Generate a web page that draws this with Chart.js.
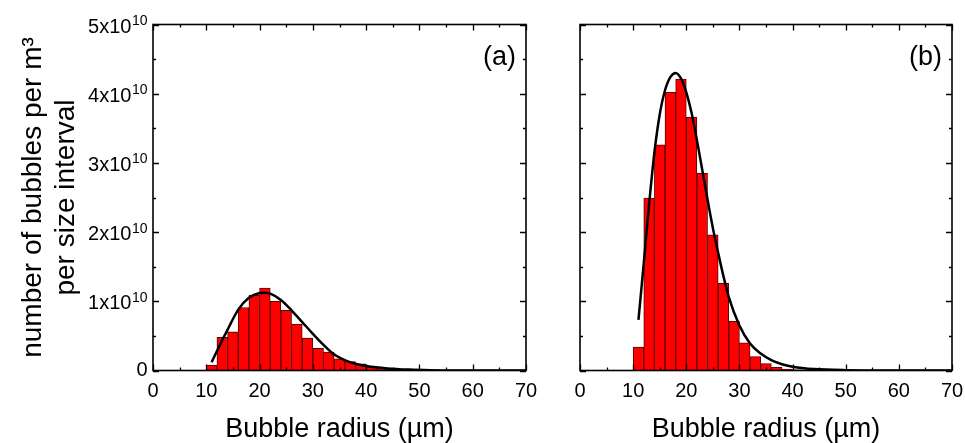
<!DOCTYPE html>
<html>
<head>
<meta charset="utf-8">
<script src="https://cdn.jsdelivr.net/npm/chart.js@4"></script>
<style>
  body { margin: 0; background: #fff; }
  #wrap { position: relative; width: 965px; height: 443px; }
  canvas { position: absolute; top: 0; }
  #chartA { left: 0; }
  #chartB { left: 540px; }
</style>
</head>
<body>
<div id="wrap">
  <canvas id="chartA" width="540" height="443"></canvas>
  <canvas id="chartB" width="425" height="443"></canvas>
</div>
<script>
// Bubble size histograms, values in units of 1e10 bubbles per m^3
const FONT = '"Liberation Sans", Arial, sans-serif';

const binCenters = [11, 13, 15, 17, 19, 21, 23, 25, 27, 29, 31, 33, 35, 37, 39, 41, 43, 45, 47, 49, 51, 53, 55, 57, 59];
const countsA = [0.08, 0.48, 0.56, 0.91, 1.09, 1.19, 1.00, 0.87, 0.67, 0.47, 0.32, 0.265, 0.17, 0.13, 0.096, 0.065, 0.04, 0.028, 0.02, 0.014, 0.01, 0.007, 0.005, 0.003, 0.002];
const countsB = [0.34, 2.49, 3.26, 4.02, 4.21, 3.66, 2.85, 1.96, 1.26, 0.71, 0.40, 0.20, 0.10, 0.045, 0.02, 0.01, 0.005, 0.003, 0.002, 0.001, 0, 0, 0, 0, 0];

// fitted curves
const fitXA = [11, 12, 14, 16, 18, 20, 21, 22, 24, 26, 28, 30, 32, 34, 36, 38, 40, 44, 48, 52, 60, 70];
const fitYA = [0.12, 0.28, 0.59, 0.88, 1.05, 1.12, 1.125, 1.11, 1.02, 0.87, 0.70, 0.53, 0.37, 0.23, 0.15, 0.097, 0.065, 0.03, 0.013, 0.005, 0.001, 0];
const fitXB = [11, 12, 13, 14, 15, 16, 17, 18, 19, 20, 21, 22, 23, 24, 25, 26, 27, 28, 30, 32, 34, 36, 38, 40, 44, 50, 60, 70];
const fitYB = [0.73, 1.55, 2.40, 3.15, 3.70, 4.05, 4.24, 4.30, 4.22, 4.02, 3.72, 3.33, 2.90, 2.47, 2.06, 1.70, 1.36, 1.06, 0.65, 0.39, 0.245, 0.15, 0.09, 0.055, 0.02, 0.005, 0.001, 0];

const xTickValues = [0, 10, 20, 30, 40, 50, 60, 70];
const yTickValues = [0, 1, 2, 3, 4, 5];

// frame, inward ticks on all sides, panel letter, y labels with exponent
const framePlugin = {
  id: 'frame',
  afterDraw(chart, args, opts) {
    const ctx = chart.ctx;
    const {left, right, top, bottom} = chart.chartArea;
    const x = chart.scales.x, y = chart.scales.y;
    ctx.save();
    ctx.strokeStyle = '#000';
    ctx.lineWidth = 1.3;
    ctx.beginPath();
    for (let v = 0; v <= 70; v += 5) {
      const px = Math.round(x.getPixelForValue(v)) + 0.5;
      const len = v % 10 === 0 ? 6 : 3;
      ctx.moveTo(px, bottom); ctx.lineTo(px, bottom - len);
      ctx.moveTo(px, top); ctx.lineTo(px, top + len);
    }
    for (let v = 0; v <= 5; v += 0.5) {
      const py = Math.round(y.getPixelForValue(v)) + 0.5;
      const len = v % 1 === 0 ? 6 : 3;
      ctx.moveTo(left, py); ctx.lineTo(left + len, py);
      ctx.moveTo(right, py); ctx.lineTo(right - len, py);
    }
    ctx.stroke();
    ctx.lineWidth = 1.6;
    ctx.strokeRect(left, top, right - left, bottom - top);

    ctx.fillStyle = '#000';
    ctx.font = '27px ' + FONT;
    ctx.textAlign = 'right';
    ctx.textBaseline = 'middle';
    ctx.fillText(opts.label, right - 10, top + 33);

    if (opts.yLabels) {
      const edge = left - 5.5;
      yTickValues.forEach(v => {
        const py = y.getPixelForValue(v);
        ctx.textAlign = 'right';
        if (v === 0) {
          ctx.font = '20px ' + FONT;
          ctx.textBaseline = 'middle';
          ctx.fillText('0', edge, py);
          return;
        }
        ctx.textBaseline = 'alphabetic';
        ctx.font = '14px ' + FONT;
        const supW = ctx.measureText('10').width;
        ctx.fillText('10', edge, py + 0.5);
        ctx.font = '20px ' + FONT;
        ctx.fillText(v + 'x10', edge - supW - 0.5, py + 8);
      });
    }
    ctx.restore();
  }
};

function makeChart(id, counts, fitX, fitY, label, isLeft) {
  const ctx = document.getElementById(id);
  return new Chart(ctx, {
    type: 'bar',
    data: {
      datasets: [{
        type: 'line',
        data: fitX.map((r, i) => ({x: r, y: fitY[i]})),
        borderColor: '#000',
        borderWidth: 2.5,
        pointRadius: 0,
        fill: false,
        cubicInterpolationMode: 'monotone',
        order: 1
      }, {
        type: 'bar',
        data: binCenters.map((r, i) => ({x: r, y: counts[i]})),
        backgroundColor: '#ff0000',
        borderColor: '#5c0000',
        borderWidth: 1,
        barPercentage: 1,
        categoryPercentage: 1,
        order: 2
      }]
    },
    options: {
      responsive: false,
      animation: false,
      layout: {
        padding: isLeft ? {top: 24.5, right: 14, left: 0, bottom: 0} : {top: 24.5, right: 13, left: 40, bottom: 0}
      },
      plugins: {
        legend: { display: false },
        tooltip: { enabled: false },
        frame: { label: label, yLabels: isLeft }
      },
      scales: {
        x: {
          type: 'linear',
          min: 0,
          max: 70,
          offset: false,
          afterBuildTicks(scale) { scale.ticks = xTickValues.map(v => ({value: v})); },
          ticks: { padding: 1, color: '#000', font: {family: FONT, size: 20}, maxRotation: 0, autoSkip: false },
          grid: { display: false },
          border: { display: false },
          title: {
            display: true,
            text: 'Bubble radius (µm)',
            color: '#000',
            font: {family: FONT, size: 27, lineHeight: 1},
            padding: 0
          },
          afterFit(scale) {
            scale.height = 72.5;
            scale.paddingLeft = 0;
            scale.paddingRight = 0;
          }
        },
        y: isLeft ? {
          min: 0,
          max: 5,
          ticks: { display: false, stepSize: 1 },
          grid: { display: false },
          border: { display: false },
          title: {
            display: true,
            text: ['number of bubbles per m³', 'per size interval'],
            color: '#000',
            font: {family: FONT, size: 28, lineHeight: 1.18},
            padding: {top: 16.5, bottom: 0}
          },
          afterFit(scale) { scale.width = 153; }
        } : {
          display: false,
          min: 0,
          max: 5
        }
      }
    },
    plugins: [framePlugin]
  });
}

makeChart('chartA', countsA, fitXA, fitYA, '(a)', true);
makeChart('chartB', countsB, fitXB, fitYB, '(b)', false);
</script>
</body>
</html>
